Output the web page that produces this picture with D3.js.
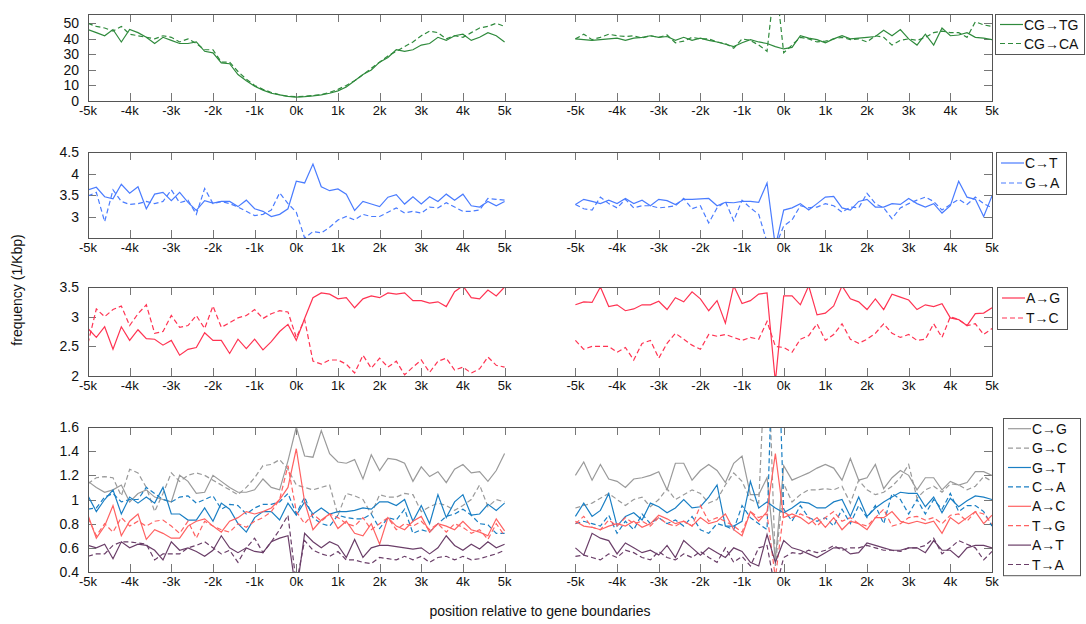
<!DOCTYPE html>
<html>
<head>
<meta charset="utf-8">
<title>mutation frequency around gene boundaries</title>
<script src="https://d3js.org/d3.v7.min.js"></script>
<style>
  body { margin: 0; background: #fff; }
  text { font-family: "Liberation Sans", Arial, sans-serif; fill: #111; }
</style>
</head>
<body>
<div id="graph"></div>
<script>
// positions (bp) of the sampled windows, left block = gene start, right block = gene end
var positions = d3.range(-5000, 5001, 200);
var xTicks = [-5000, -4000, -3000, -2000, -1000, 0, 1000, 2000, 3000, 4000, 5000];
var xTickLabels = ["-5k", "-4k", "-3k", "-2k", "-1k", "0k", "1k", "2k", "3k", "4k", "5k"];

// row 1: CpG
var yTicks1 = [0, 10, 20, 30, 40, 50];
var cgtgL = [46,44,42,46,38,46,44,41,37,41, 39,37,37,38,32,31,24.5,24,17,13, 9.5,7,5,4,3,2.5,2.8,3.3,4,5, 6.5,9,13,17,20,25,28,33,32,33, 36,37,41,39,42,43,39,41,44,42, 38];
var cgtgR = [40,39.5,39,39.5,40,40.5,39,40.5,41,42, 41,41.5,39,41,39,40.5,39,38,36.5,35, 37.5,39.5,38,37,35,33.5,34.5,42,40.5,39.5, 37.5,40,42,40,40.5,41,41.5,45.5,42,46, 40,36,43,36,47,42,42.5,44,41,40.5, 39.5];
var cgcaL = [50,48,47,45,48,43,42,41,40,42, 41,38,40,37,33,33,25,25,19,14, 10,7.5,5.5,4,3,2.8,3,3.5,4.2,5.5, 7.5,10,13,17,21,25,29,32,35,38, 42,45,44,40,42,41,44,47,48,50, 48];
var cgcaR = [40,43,39.5,41,43,42,41.5,42,40.5,42, 41,42.5,37.5,38.5,41,40,40,38,37,34, 40,39,36,32,80,31,36,41,40,38, 38.5,40,41,39.5,40,38,42,41,36,39, 40,39,41,44,45,44,44,41,51,49, 48];

// row 2
var yTicks2 = [3, 3.5, 4, 4.5];
var ctL = [3.62,3.68,3.46,3.41,3.75,3.54,3.69,3.18,3.52,3.56, 3.37,3.56,3.33,3.14,3.37,3.31,3.35,3.35,3.23,3.38, 3.18,3.12,3.0,3.05,3.18,3.82,3.78,4.22,3.69,3.6, 3.64,3.52,3.14,3.35,3.29,3.23,3.45,3.51,3.29,3.46, 3.29,3.46,3.35,3.52,3.38,3.52,3.25,3.22,3.35,3.25, 3.35];
var ctR = [3.28,3.4,3.35,3.3,3.38,3.3,3.42,3.3,3.38,3.25, 3.4,3.37,3.28,3.4,3.4,3.41,3.42,3.25,3.33,3.32, 3.35,3.35,3.33,3.78,2.3,3.15,3.2,3.3,3.15,3.3, 3.45,3.47,3.2,3.15,3.35,3.4,3.22,3.22,3.3,3.28, 3.42,3.3,3.22,3.3,3.08,3.25,3.82,3.45,3.4,3.0, 3.48];
var gaL = [3.48,3.56,2.88,3.62,3.35,3.28,3.3,3.35,3.3,3.35, 3.62,3.32,3.38,3.05,3.65,3.3,3.35,3.3,3.22,3.12, 3.02,3.05,3.15,3.55,3.3,3.1,2.5,2.65,2.62,2.75, 2.92,3.0,2.92,3.05,3.0,3.0,3.1,3.2,3.08,3.12, 3.08,3.22,3.2,3.32,3.22,3.12,3.12,3.15,3.42,3.4, 3.38];
var gaR = [3.28,3.18,3.15,3.45,3.3,3.2,3.4,3.2,3.25,3.25, 3.2,3.22,3.25,3.42,3.18,3.25,2.85,3.2,3.35,2.9, 3.38,3.2,3.05,2.4,2.3,2.78,2.92,3.25,3.2,3.22, 3.3,3.25,3.1,3.22,3.2,3.54,3.3,3.2,2.95,3.2, 3.3,3.38,3.45,3.35,3.15,3.28,3.4,3.28,3.45,3.3, 3.2];

// row 3
var yTicks3 = [2, 2.5, 3, 3.5];
var agL = [2.8,2.65,2.83,2.45,2.83,2.6,2.78,2.63,2.62,2.52, 2.6,2.35,2.45,2.48,2.73,2.6,2.6,2.38,2.62,2.46, 2.62,2.44,2.58,2.75,2.87,2.6,2.97,3.32,3.4,3.38, 3.3,3.32,3.15,3.3,3.35,3.32,3.4,3.38,3.4,3.27, 3.27,3.23,3.25,3.17,3.42,3.52,3.32,3.3,3.45,3.35, 3.5];
var agR = [3.2,3.25,3.24,3.5,3.17,3.2,3.1,3.13,3.2,3.2, 3.26,3.12,3.32,3.25,3.42,3.3,3.1,3.27,2.89,3.52, 3.22,3.27,3.38,3.4,1.9,3.35,3.35,3.2,3.52,3.03, 3.06,3.18,3.52,3.3,3.25,3.12,3.3,3.12,3.38,3.33, 3.28,3.12,3.2,3.17,3.22,2.98,2.95,2.85,3.05,3.06, 3.15];
var tcL = [2.55,3.13,3.0,3.12,3.18,2.85,3.05,3.2,2.72,2.75, 3.02,2.82,2.85,3.02,2.8,3.18,2.82,2.9,2.98,3.02, 3.12,2.97,3.05,3.1,3.08,2.65,2.95,2.25,2.2,2.27, 2.27,2.2,2.05,2.35,2.13,2.3,2.15,2.25,2.02,2.15, 2.27,2.06,2.25,2.3,2.1,2.15,2.05,2.12,2.32,2.18, 2.15];
var tcR = [2.6,2.45,2.5,2.5,2.5,2.4,2.48,2.27,2.55,2.6, 2.3,2.55,2.72,2.62,2.52,2.45,2.7,2.67,2.7,2.65, 2.6,2.65,2.62,2.92,2.5,2.48,2.4,2.62,2.68,2.88, 2.6,2.7,2.88,2.62,2.55,2.62,2.72,2.88,2.72,2.65, 2.7,2.6,2.62,2.88,2.65,3.0,2.95,2.85,2.88,2.7, 2.8];

// row 4: transversions
var yTicks4 = [0.4, 0.6, 0.8, 1, 1.2, 1.4, 1.6];
var cgL = [1.15,1.1,1.06,1.08,1.12,0.98,1.05,1.08,1.02,1.0, 0.98,1.2,1.15,1.05,1.06,1.2,1.15,1.1,1.06,1.06, 1.08,1.17,1.1,1.08,1.32,1.6,1.36,1.35,1.57,1.38, 1.31,1.3,1.33,1.17,1.37,1.24,1.34,1.33,1.3,1.15, 1.27,1.19,1.23,1.14,1.25,1.29,1.22,1.23,1.15,1.24, 1.38];
var cgR = [1.2,1.31,1.16,1.29,1.17,1.15,1.1,1.17,1.18,1.2, 1.23,1.08,1.3,1.3,1.16,1.24,1.29,1.24,1.14,1.3, 1.36,1.04,1.04,1.18,0.5,1.28,1.16,1.19,1.22,1.26, 1.29,1.26,1.16,1.34,1.16,1.18,1.29,1.09,1.18,1.24, 1.2,1.08,1.18,1.18,1.08,1.15,1.12,1.14,1.23,1.23, 1.2];
var gcL = [1.13,1.18,1.19,1.18,1.03,1.25,1.22,1.1,0.9,1.05, 1.22,1.15,1.2,1.22,1.2,1.16,1.12,1.08,1.04,1.1, 1.18,1.28,1.29,1.33,1.25,1.12,1.1,1.08,1.1,1.12, 0.87,1.05,1.03,1.0,0.88,1.04,1.02,1.02,1.05,1.04, 0.9,0.94,0.97,0.95,0.91,0.95,1.0,1.12,0.94,1.0, 0.98];
var gcR = [0.93,0.95,0.97,1.01,1.05,1.0,0.95,1.0,1.02,0.94, 1.0,1.09,1.0,1.04,1.08,1.05,0.97,1.0,1.12,1.22, 1.15,1.0,0.97,2.5,0.45,1.13,0.98,1.04,1.08,1.08, 1.09,1.08,1.11,0.97,1.16,1.08,1.04,1.06,1.11,1.18, 1.29,1.01,1.08,1.11,1.06,1.13,1.12,1.08,1.11,1.19, 1.15];
var gtL = [1.03,0.9,1.0,1.08,0.88,1.02,0.97,1.02,0.97,1.1, 0.88,0.88,0.83,0.83,0.93,0.82,0.97,0.92,0.8,0.73, 0.85,0.9,0.9,0.83,0.97,0.87,0.98,0.88,0.93,0.88, 0.9,0.9,0.91,0.93,0.92,0.98,0.98,0.95,1.0,0.82, 0.95,0.8,1.04,0.85,0.98,1.04,0.87,0.88,0.96,0.91, 0.97];
var gtR = [0.86,0.97,0.86,0.91,1.05,0.78,0.86,0.89,0.83,0.97, 0.94,0.89,0.93,1.0,0.93,0.94,1.02,1.12,0.78,0.78, 0.82,1.15,0.93,0.98,0.93,0.89,0.93,0.98,0.97,0.93, 0.93,0.98,1.0,0.86,1.02,0.86,0.93,0.98,1.02,1.06, 1.05,1.05,0.94,1.02,0.89,1.01,0.94,0.99,1.03,1.02, 1.0];
var caL = [0.92,0.93,1.02,1.05,0.98,1.0,1.0,1.1,1.05,1.0, 0.98,1.02,1.03,0.97,1.0,1.03,0.92,0.96,0.95,0.88, 0.93,0.96,0.96,0.98,1.05,0.88,1.02,0.85,0.8,0.78, 0.87,0.85,0.84,0.84,0.88,0.76,0.85,0.83,0.92,0.72, 0.75,0.73,0.8,0.86,0.88,0.92,0.87,0.8,0.79,0.72, 0.72];
var caR = [0.8,0.82,0.8,0.78,0.87,0.72,0.82,0.75,0.88,0.8, 0.85,0.8,0.83,0.78,0.86,0.75,0.72,0.8,0.78,0.75, 0.95,0.85,0.8,0.75,3.0,0.92,0.82,0.95,0.85,0.82, 0.85,0.78,0.92,0.8,0.95,0.85,0.95,0.8,1.05,1.0, 0.88,1.0,0.88,1.0,0.92,1.05,0.9,0.95,0.95,0.9, 0.78];
var acL = [0.87,0.68,0.78,0.95,0.7,0.82,0.88,0.67,0.75,0.72, 0.68,0.68,0.78,0.82,0.84,0.78,0.73,0.82,0.85,0.9, 0.88,0.9,0.93,1.0,1.1,1.42,0.98,0.75,0.83,0.88, 0.76,0.82,0.72,0.7,0.8,0.63,0.85,0.78,0.75,0.82, 0.86,0.73,0.8,0.78,0.75,0.82,0.75,0.73,0.7,0.84, 0.74];
var acR = [0.82,0.78,0.77,0.75,0.78,0.8,0.78,0.82,0.77,0.8, 0.87,0.84,0.8,0.82,0.78,0.85,0.8,0.82,0.88,0.75, 0.7,0.9,0.82,0.9,1.38,0.85,0.88,0.85,0.8,0.85, 0.77,0.85,0.75,0.82,0.8,0.75,0.85,0.85,0.9,0.82, 0.8,0.82,0.8,0.82,0.72,0.85,0.8,0.85,0.9,0.8, 0.87];
var tgL = [0.85,0.7,0.8,0.73,0.85,0.78,0.82,0.78,0.82,0.83, 0.78,0.72,0.82,0.68,0.82,0.78,0.75,0.73,0.8,0.77, 0.82,0.85,0.9,1.0,1.28,0.9,0.8,0.88,0.82,0.88, 0.85,0.8,0.78,0.85,0.75,0.8,0.85,0.75,0.8,0.78, 0.82,0.75,0.8,0.73,0.8,0.77,0.72,0.75,0.67,0.8, 0.7];
var tgR = [0.8,0.86,0.77,0.75,0.83,0.78,0.85,0.8,0.82,0.78, 0.85,0.8,0.78,0.82,0.78,0.95,0.82,0.85,0.82,0.78, 0.73,0.9,0.85,0.88,0.35,0.9,0.85,0.88,0.85,0.78, 0.85,0.9,0.82,0.85,0.8,0.78,0.85,0.92,0.78,0.8, 0.85,0.86,0.83,0.85,0.8,0.87,0.88,0.82,0.9,0.88, 0.8];
var atL = [0.62,0.6,0.63,0.51,0.65,0.6,0.63,0.62,0.58,0.5, 0.65,0.58,0.6,0.57,0.53,0.58,0.7,0.6,0.56,0.6, 0.57,0.56,0.65,0.68,0.7,0.22,0.72,0.65,0.6,0.65, 0.62,0.52,0.67,0.52,0.6,0.62,0.62,0.61,0.6,0.59, 0.6,0.55,0.6,0.7,0.62,0.58,0.63,0.59,0.65,0.6, 0.63];
var atR = [0.6,0.54,0.72,0.68,0.66,0.55,0.64,0.6,0.56,0.58, 0.54,0.62,0.52,0.66,0.6,0.54,0.6,0.56,0.52,0.6, 0.57,0.48,0.45,0.71,0.48,0.66,0.6,0.58,0.55,0.52, 0.56,0.6,0.6,0.55,0.56,0.64,0.62,0.6,0.58,0.58, 0.6,0.6,0.56,0.66,0.58,0.58,0.52,0.6,0.62,0.62, 0.6];
var taL = [0.53,0.55,0.55,0.62,0.65,0.65,0.64,0.63,0.5,0.55, 0.55,0.55,0.6,0.62,0.65,0.6,0.55,0.58,0.48,0.6, 0.68,0.56,0.65,0.75,0.87,0.3,0.66,0.58,0.55,0.53, 0.57,0.5,0.5,0.48,0.47,0.52,0.51,0.5,0.53,0.5, 0.53,0.48,0.52,0.53,0.5,0.53,0.5,0.51,0.53,0.55, 0.58];
var taR = [0.53,0.54,0.52,0.5,0.55,0.52,0.58,0.56,0.52,0.5, 0.57,0.52,0.5,0.55,0.52,0.57,0.52,0.48,0.6,0.48, 0.53,0.45,0.6,0.62,0.25,0.52,0.56,0.55,0.58,0.56, 0.58,0.62,0.58,0.6,0.6,0.62,0.6,0.58,0.58,0.57, 0.6,0.6,0.62,0.68,0.55,0.6,0.66,0.63,0.6,0.5, 0.57];

var green = "#2f8a3c", blue = "#4a7cff", red = "#ff3352";
var grey = "#9a9a9a", blue2 = "#1a7fc4", salmon = "#ff6262", plum = "#6a3e68";

var rows = [
  {top: 14, bottom: 101, domain: [0, 56], ticks: yTicks1,
   legend: {x: 995, w: 89, rowH: 19},
   series: [
     {name: "CG→TG", color: green, dash: false, L: cgtgL, R: cgtgR},
     {name: "CG→CA", color: green, dash: true, L: cgcaL, R: cgcaR}]},
  {top: 152, bottom: 238, domain: [2.5, 4.5], ticks: yTicks2,
   legend: {x: 996, w: 70, rowH: 20},
   series: [
     {name: "C→T", color: blue, dash: false, L: ctL, R: ctR},
     {name: "G→A", color: blue, dash: true, L: gaL, R: gaR}]},
  {top: 287, bottom: 376, domain: [2, 3.5], ticks: yTicks3,
   legend: {x: 997, w: 70, rowH: 20},
   series: [
     {name: "A→G", color: red, dash: false, L: agL, R: agR},
     {name: "T→C", color: red, dash: true, L: tcL, R: tcR}]},
  {top: 427, bottom: 572, domain: [0.4, 1.6], ticks: yTicks4,
   legend: {x: 1003, w: 77, rowH: 19.4, top: 418},
   series: [
     {name: "C→G", color: grey, dash: false, L: cgL, R: cgR},
     {name: "G→C", color: grey, dash: true, L: gcL, R: gcR},
     {name: "G→T", color: blue2, dash: false, L: gtL, R: gtR},
     {name: "C→A", color: blue2, dash: true, L: caL, R: caR},
     {name: "A→C", color: salmon, dash: false, L: acL, R: acR},
     {name: "T→G", color: salmon, dash: true, L: tgL, R: tgR},
     {name: "A→T", color: plum, dash: false, L: atL, R: atR},
     {name: "T→A", color: plum, dash: true, L: taL, R: taR}]}
];

var W = 1086, H = 624;
var rightOffset = 11700;   // right block is drawn shifted along the same axis
var x = d3.scaleLinear().domain([-5000, 5000 + rightOffset]).range([88, 992]);
var tickLen = 8;
var dashArr = "5,3";

var svg = d3.select("#graph").append("svg")
    .attr("width", W).attr("height", H);

svg.append("rect").attr("width", W).attr("height", H).attr("fill", "#fff");

rows.forEach(function(row, r) {
  var y = d3.scaleLinear().domain(row.domain).range([row.bottom, row.top]);
  var g = svg.append("g");

  svg.append("clipPath").attr("id", "clip" + r)
    .append("rect")
    .attr("x", x.range()[0]).attr("y", row.top)
    .attr("width", x.range()[1] - x.range()[0]).attr("height", row.bottom - row.top);

  // ticks on the four sides, pointing in
  var allX = xTicks.concat(xTicks.map(function(d) { return d + rightOffset; }));
  g.selectAll(".xt").data(allX).enter().append("path")
    .attr("d", function(d) {
      var px = Math.round(x(d)) + 0.5;
      return "M" + px + "," + row.bottom + "v" + (-tickLen) + "M" + px + "," + row.top + "v" + tickLen;
    })
    .attr("stroke", "#777").attr("fill", "none");
  g.selectAll(".yt").data(row.ticks).enter().append("path")
    .attr("d", function(d) {
      var py = Math.round(y(d)) + 0.5;
      return "M" + x.range()[0] + "," + py + "h" + tickLen + "M" + x.range()[1] + "," + py + "h" + (-tickLen);
    })
    .attr("stroke", "#777").attr("fill", "none");

  // tick labels
  g.selectAll(".xl").data(allX).enter().append("text")
    .attr("x", function(d) { return x(d); })
    .attr("y", row.bottom + 14)
    .attr("text-anchor", "middle")
    .style("font-size", "13px")
    .text(function(d, i) { return xTickLabels[i % xTicks.length]; });
  g.selectAll(".yl").data(row.ticks).enter().append("text")
    .attr("x", x.range()[0] - 9)
    .attr("y", function(d) { return y(d) + 5; })
    .attr("text-anchor", "end")
    .style("font-size", "14px")
    .text(function(d) { return d; });

  // lines
  var line = d3.line()
    .x(function(d) { return x(d[0]); })
    .y(function(d) { return y(d[1]); });
  var lg = svg.append("g").attr("clip-path", "url(#clip" + r + ")");
  row.series.forEach(function(s) {
    [[s.L, 0], [s.R, rightOffset]].forEach(function(part) {
      var pts = positions.map(function(p, i) { return [p + part[1], part[0][i]]; });
      lg.append("path")
        .datum(pts)
        .attr("d", line)
        .attr("fill", "none")
        .attr("stroke", s.color)
        .attr("stroke-width", 1.2)
        .attr("stroke-dasharray", s.dash ? dashArr : null);
    });
  });

  // axes box
  svg.append("rect")
    .attr("x", x.range()[0] + 0.5).attr("y", row.top + 0.5)
    .attr("width", x.range()[1] - x.range()[0]).attr("height", row.bottom - row.top)
    .attr("fill", "none").attr("stroke", "#555");

  // legend
  var lt = row.legend.top || row.top;
  var lh = row.series.length * row.legend.rowH + 2;
  var leg = svg.append("g");
  leg.append("rect")
    .attr("x", row.legend.x + 0.5).attr("y", lt + 0.5)
    .attr("width", row.legend.w).attr("height", lh)
    .attr("fill", "#fff").attr("stroke", "#555");
  row.series.forEach(function(s, i) {
    var cy = lt + 1 + row.legend.rowH * (i + 0.5);
    leg.append("line")
      .attr("x1", row.legend.x + 5).attr("x2", row.legend.x + 28)
      .attr("y1", cy).attr("y2", cy)
      .attr("stroke", s.color).attr("stroke-width", 1.2)
      .attr("stroke-dasharray", s.dash ? dashArr : null);
    leg.append("text")
      .attr("x", row.legend.x + 29).attr("y", cy + 5)
      .style("font-size", "14px")
      .text(s.name);
  });
});

svg.append("text")
  .attr("transform", "translate(22,290) rotate(-90)")
  .attr("text-anchor", "middle")
  .style("font-size", "14px")
  .text("frequency (1/Kbp)");

svg.append("text")
  .attr("x", 540).attr("y", 616)
  .attr("text-anchor", "middle")
  .style("font-size", "14px")
  .text("position relative to gene boundaries");
</script>
</body>
</html>
